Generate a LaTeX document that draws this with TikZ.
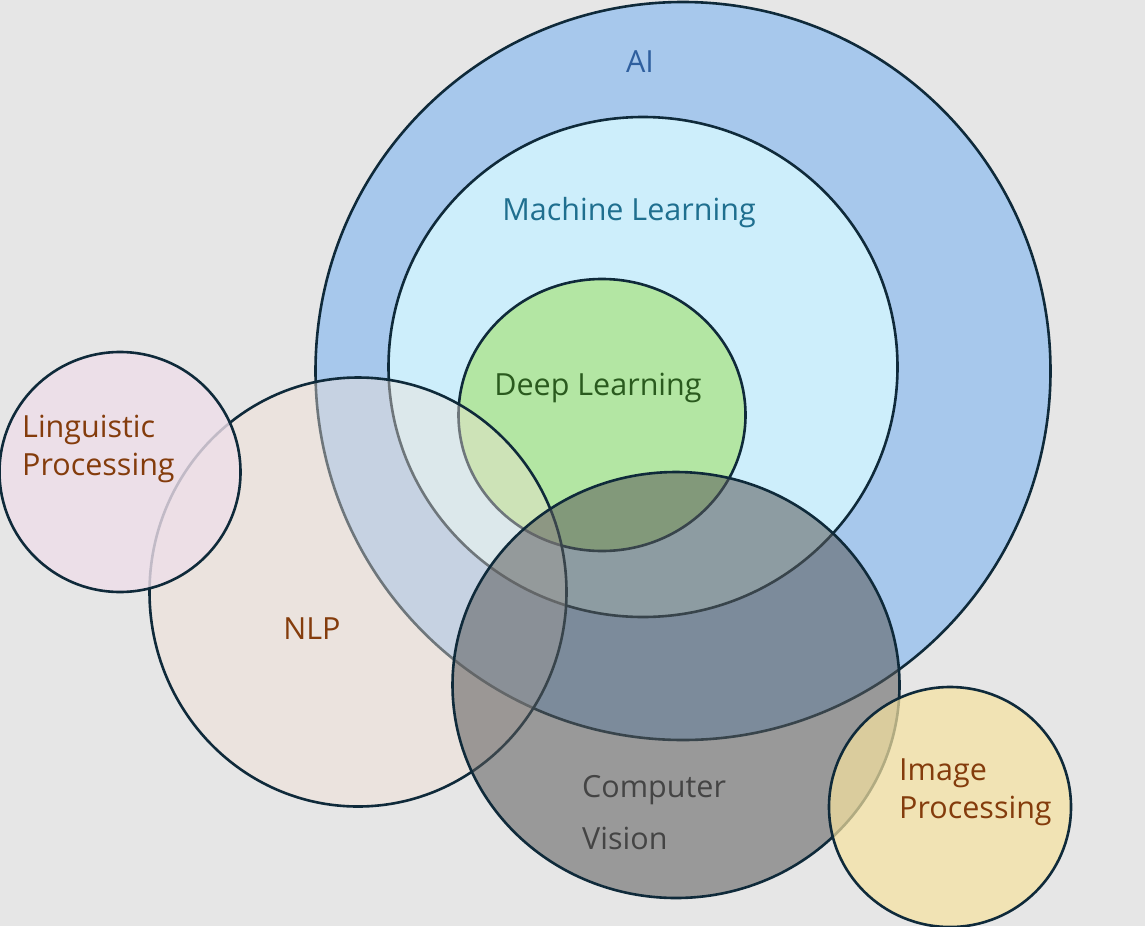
\documentclass[tikz,border=0pt]{standalone}
\usepackage{fontspec}
\setmainfont{Open Sans}
\usetikzlibrary{shapes.geometric}
\definecolor{bgc}{HTML}{E6E6E6}
\definecolor{edgec}{HTML}{0F2A3A}
\definecolor{aifill}{HTML}{A7C8EC}
\definecolor{mlfill}{HTML}{CDEEFB}
\definecolor{dlfill}{HTML}{B3E6A3}
\definecolor{nlpfill}{HTML}{F2E1D5}
\definecolor{lpfill}{HTML}{EEDEE9}
\definecolor{cvfill}{HTML}{5A5A5A}
\definecolor{ipfill}{HTML}{F6E2A0}
\definecolor{aitext}{HTML}{2F5F9E}
\definecolor{mltext}{HTML}{1F6F8F}
\definecolor{dltext}{HTML}{2A5A1E}
\definecolor{browntext}{HTML}{843C0C}
\definecolor{cvtext}{HTML}{444444}
\tikzset{
  blob/.style={ellipse, draw=edgec, line width=2.6pt, inner sep=0pt},
  lbl/.style={font=\fontsize{30.5}{38}\selectfont, inner sep=0pt},
}
\begin{document}
\begin{tikzpicture}[x=1pt,y=-1pt]
\useasboundingbox (0,0) rectangle (1145,926);
\fill[bgc] (0,0) rectangle (1145,926);
\node[blob, fill=aifill, minimum width=735pt, minimum height=738pt] (ai) at (683,371) {};
\node[blob, fill=mlfill, minimum width=509pt, minimum height=500pt] (ml) at (643,367) {};
\node[blob, fill=dlfill, minimum width=287pt, minimum height=272pt] (dl) at (602,415) {};
\node[blob, fill=nlpfill, fill opacity=0.42, minimum width=417pt, minimum height=429pt] (nlp) at (358,592) {};
\node[blob, fill=lpfill, fill opacity=0.8, minimum width=241pt, minimum height=240pt] (lp) at (120,472) {};
\node[blob, fill=cvfill, fill opacity=0.55, minimum width=447pt, minimum height=426pt] (cv) at (676,685) {};
\node[blob, fill=ipfill, fill opacity=0.7, minimum width=242pt, minimum height=240pt] (ip) at (950,807) {};
\node[lbl, text=aitext] (ailbl) at (640,62) {AI};
\node[lbl, text=mltext] (mllbl) at (629,213) {Machine Learning};
\node[lbl, text=dltext] (dllbl) at (598,388) {Deep Learning};
\node[lbl, text=browntext, anchor=west, align=left] (lplbl) at (22,449) {Linguistic\\Processing};
\node[lbl, text=browntext] (nlplbl) at (312,629) {NLP};
\node[lbl, text=cvtext, anchor=west, align=left, font=\fontsize{30.5}{52}\selectfont] (cvlbl) at (582,813) {Computer\\Vision};
\node[lbl, text=browntext, anchor=west, align=left] (iplbl) at (899,792) {Image\\Processing};
\end{tikzpicture}
\end{document}
